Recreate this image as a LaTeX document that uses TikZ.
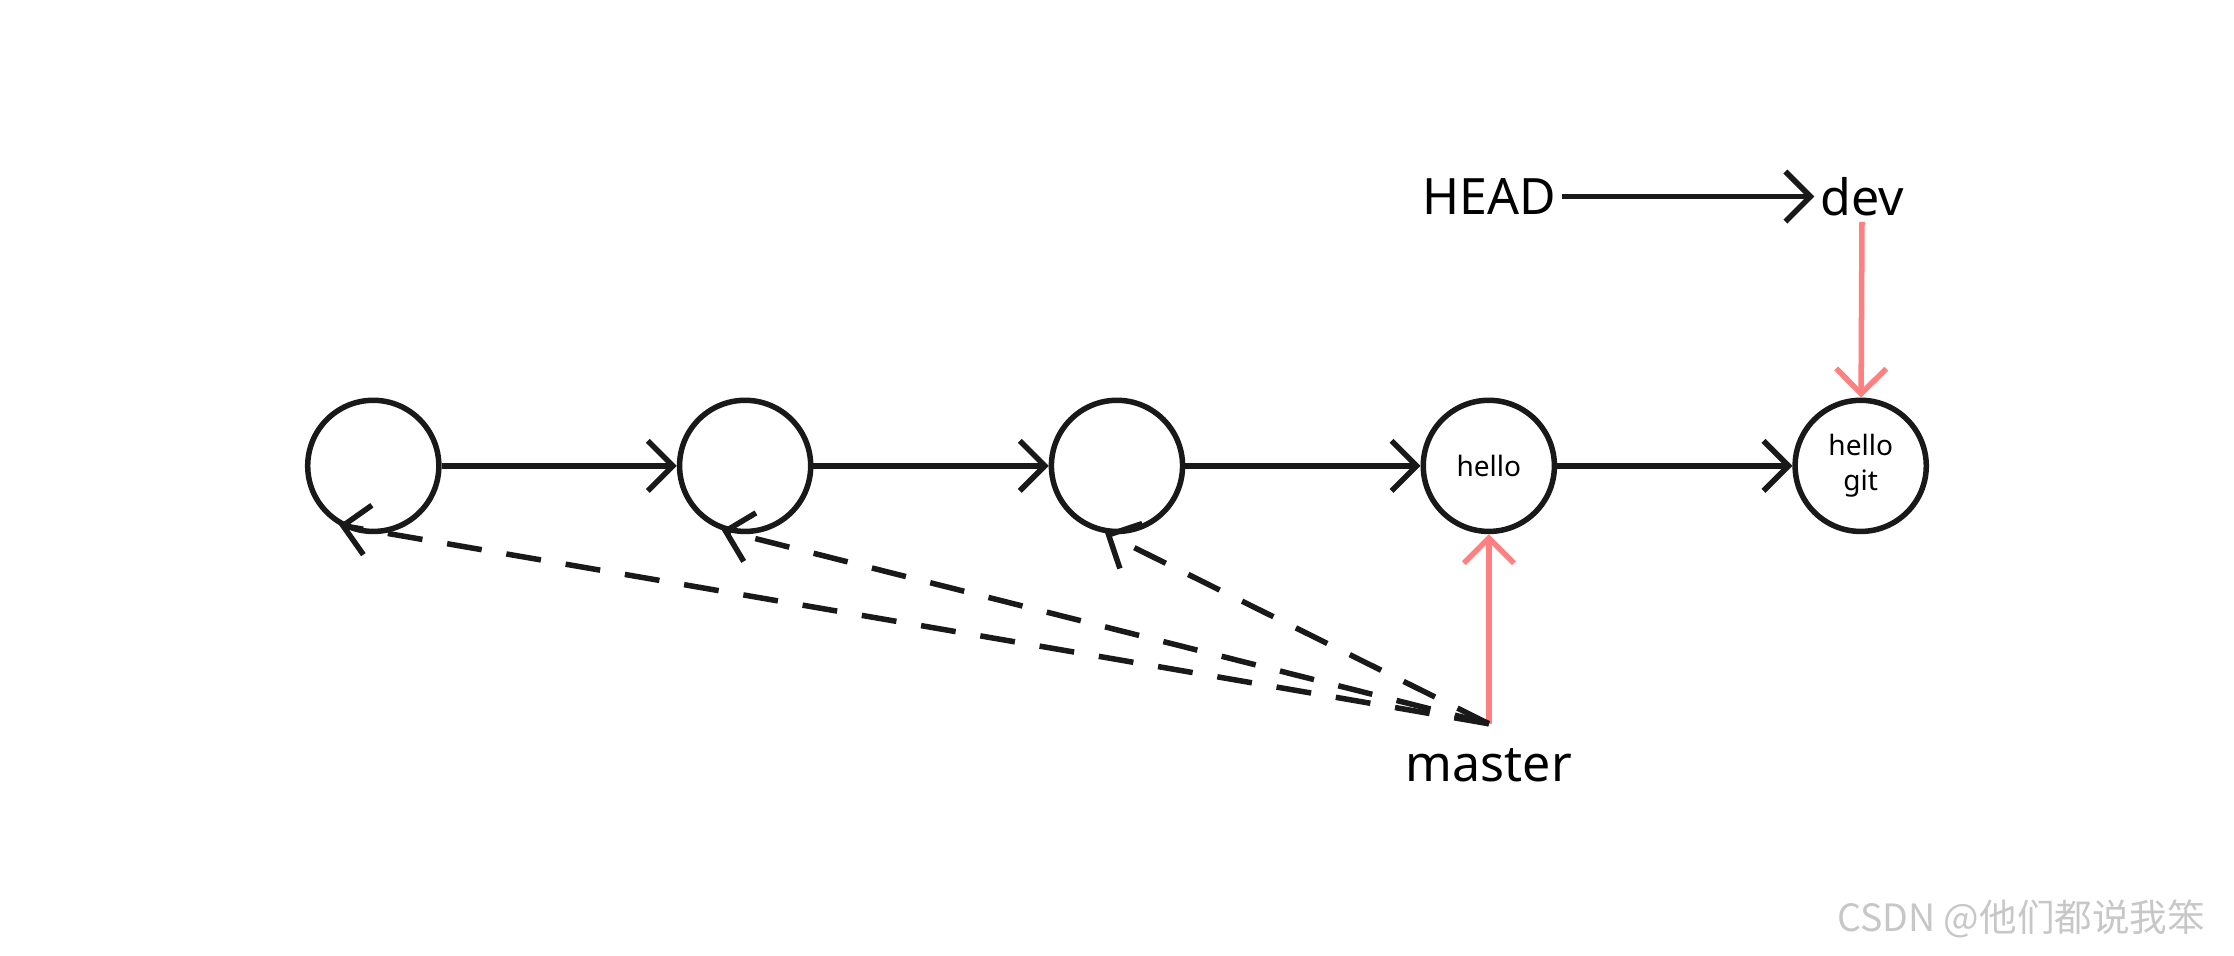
\documentclass[tikz,border=0pt]{standalone}
\usepackage{fontspec}
\setmainfont{Noto Sans}
\newfontfamily\cjk{Noto Sans CJK SC}
\usetikzlibrary{arrows.meta}
\begin{document}
\begin{tikzpicture}[x=0.01cm,y=-0.01cm,
  commit/.style={circle,draw=black!90,line width=1.1pt,minimum size=0.92cm,inner sep=0pt,font=\fontsize{5.6}{7}\selectfont,align=center},
  arr/.style={line width=1.1pt,draw=black!90,-{Straight Barb[length=5pt,width=10pt]}},
  redarr/.style={line width=1.1pt,draw=red!50!white,-{Straight Barb[length=5pt,width=10pt]}},
  dasharr/.style={arr,dash pattern=on 7pt off 5pt},
  lbl/.style={font=\fontsize{10}{12}\selectfont,inner sep=1pt}]
\useasboundingbox (0,0) rectangle (1568,671);
\node[commit] (c1) at (262,327) {};
\node[commit] (c2) at (523,327) {};
\node[commit] (c3) at (784,327) {};
\node[commit] (c4) at (1045,327) {hello};
\node[commit] (c5) at (1306,327) {hello\\git};
\node[lbl] (head) at (1045,138) {HEAD};
\node[lbl] (dev) at (1307,138) {dev};
\node[lbl] (master) at (1045,537) {master};
\coordinate (m) at (1045,508);
\draw[arr] (c1) -- (c2);
\draw[arr] (c2) -- (c3);
\draw[arr] (c3) -- (c4);
\draw[arr] (c4) -- (c5);
\draw[arr] (head) -- (dev);
\draw[redarr] (dev) -- (c5);
\draw[redarr] (m) -- (c4);
\draw[dasharr] (m) -- (c1.-120);
\draw[dasharr] (m) -- (c2.-110);
\draw[dasharr] (m) -- (c3.-100);
\node[text=black!22,font=\fontsize{7.5}{9}\selectfont\cjk,anchor=east] (wm) at (1560,645) {CSDN @他们都说我笨};
\end{tikzpicture}
\end{document}
